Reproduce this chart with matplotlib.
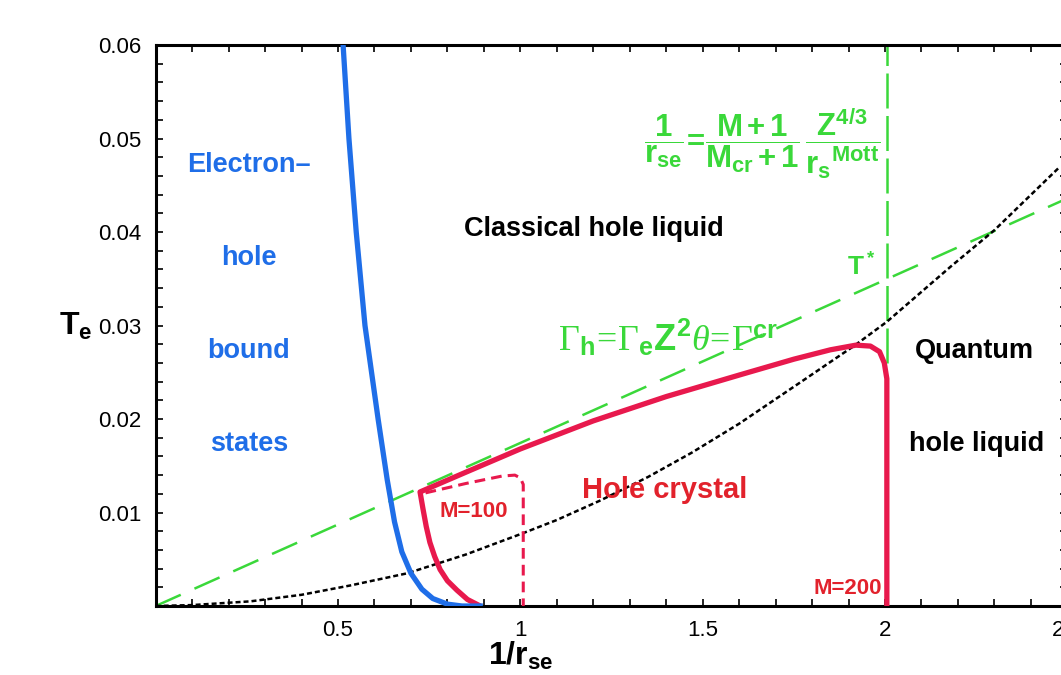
import matplotlib
matplotlib.use('Agg')
import matplotlib.pyplot as plt
from matplotlib.ticker import FixedLocator, MultipleLocator

plt.rcParams['font.family'] = ['Liberation Sans', 'DejaVu Sans']
plt.rcParams['mathtext.fontset'] = 'custom'
plt.rcParams['mathtext.rm'] = 'Liberation Serif'
plt.rcParams['mathtext.it'] = 'Liberation Serif:italic'
plt.rcParams['mathtext.bf'] = 'Liberation Sans:bold'
plt.rcParams['mathtext.sf'] = 'Liberation Sans'

# electron-hole bound states boundary
blue_x = [0.514, 0.53, 0.55, 0.574, 0.61, 0.635, 0.655, 0.675, 0.70, 0.73, 0.76, 0.80, 0.84, 0.89]
blue_t = [0.06, 0.05, 0.04, 0.03, 0.02, 0.0135, 0.009, 0.0058, 0.0035, 0.0018, 0.0008, 0.0002, 0.0, 0.0]

# hole crystal melting line, M=200
m200_x = [0.89, 0.855, 0.826, 0.80, 0.78, 0.765, 0.752, 0.742, 0.733, 0.725, 0.85, 1.0,
          1.2, 1.4, 1.6, 1.75, 1.85, 1.92, 1.96, 1.985, 1.998, 2.005, 2.005]
m200_t = [0.0, 0.0007, 0.0017, 0.0027, 0.0039, 0.0053, 0.0068, 0.0085, 0.0104, 0.0122,
          0.0143, 0.0168, 0.0198, 0.0224, 0.0247, 0.0264, 0.0274, 0.0279, 0.0278, 0.0272,
          0.0260, 0.0243, 0.0]

# hole crystal, M=100
m100_x = [0.74, 0.85, 0.95, 0.985, 1.0, 1.008, 1.008]
m100_t = [0.0121, 0.0131, 0.0139, 0.0140, 0.0137, 0.0130, 0.0]

# quantum / classical crossover T*
tstar_x = [0.0, 0.1, 0.26, 0.4, 0.534, 0.69, 0.85, 1.008, 1.1, 1.22, 1.35, 1.47,
           1.6, 1.767, 1.918, 2.005, 2.18, 2.3, 2.48]
tstar_t = [0.0, 0.0001, 0.0005, 0.0012, 0.0022, 0.0035, 0.0055, 0.0078, 0.0092, 0.0113,
           0.0138, 0.0164, 0.0195, 0.0239, 0.0279, 0.0304, 0.0363, 0.0402, 0.047]

# Gamma_h = Gamma_cr line
gam_x = [0.0, 2.5]
gam_t = [0.0, 0.0436]

# 1/r_se for M=200
rse_x = 2.005
rse_t = [0.026, 0.06]

xticks = [0.5, 1, 1.5, 2, 2.5]
xticklabels = ['0.5', '1', '1.5', '2', '2.5']
yticks = [0.01, 0.02, 0.03, 0.04, 0.05, 0.06]
yticklabels = ['0.01', '0.02', '0.03', '0.04', '0.05', '0.06']

blue = '#1f6ee8'
red = '#e8194d'
txtred = '#e2222c'
green = '#3ad83a'

fig = plt.figure(figsize=(10.61, 6.75), dpi=100)
ax = fig.add_axes([0.1467, 0.1022, 0.8593, 0.8311])

ax.plot(gam_x, gam_t, color=green, lw=1.8, dashes=(11, 6), zorder=2)
ax.plot([rse_x, rse_x], rse_t, color=green, lw=1.8, dashes=(14, 3), zorder=2)
ax.plot(tstar_x, tstar_t, color='black', lw=1.8, dashes=(2.0, 1.2), zorder=3)
ax.plot(m100_x, m100_t, color=red, lw=2.2, dashes=(3.5, 2), zorder=4)
ax.plot(m200_x, m200_t, color=red, lw=3.8, solid_capstyle='butt',
        solid_joinstyle='round', zorder=5)
ax.plot(blue_x, blue_t, color=blue, lw=3.8, solid_joinstyle='round', zorder=6)

ax.set_xlim(0, 2.5)
ax.set_ylim(0, 0.06)
ax.xaxis.set_major_locator(FixedLocator(xticks))
ax.set_xticklabels(xticklabels)
ax.yaxis.set_major_locator(FixedLocator(yticks))
ax.set_yticklabels(yticklabels)
ax.xaxis.set_minor_locator(MultipleLocator(0.1))
ax.yaxis.set_minor_locator(MultipleLocator(0.002))
ax.tick_params(which='both', direction='in', top=True, right=True, width=1.2,
               length=5, labelsize=16, pad=10)
for s in ax.spines.values():
    s.set_linewidth(2.2)

ax.set_xlabel(r'$\mathbf{1/r_{se}}$', fontsize=23, labelpad=6)
ax.xaxis.set_label_coords(0.4, -0.06)
ax.set_ylabel(r'$\mathbf{T_e}$', fontsize=23, rotation=0)
ax.yaxis.set_label_coords(-0.088, 0.47)

kw = dict(ha='center', va='center', fontweight='bold', fontsize=19.5)
for label, y in zip(['Electron\u2013', 'hole', 'bound', 'states'],
                    [0.0472, 0.0372, 0.0273, 0.0173]):
    ax.text(0.256, y, label, color=blue, **kw)
ax.text(1.203, 0.0403, 'Classical hole liquid', color='black', **kw)
ax.text(2.244, 0.0273, 'Quantum', color='black', **kw)
ax.text(2.25, 0.0173, 'hole liquid', color='black', **kw)
ax.text(1.397, 0.0124, 'Hole crystal', color=txtred, ha='center', va='center',
        fontweight='bold', fontsize=21)
ax.text(0.873, 0.0101, 'M=100', color=txtred, ha='center', va='center',
        fontweight='bold', fontsize=16)
ax.text(1.898, 0.0019, 'M=200', color=txtred, ha='center', va='center',
        fontweight='bold', fontsize=16)
ax.text(1.935, 0.0363, r'$\mathbf{T^*}$', color=green, ha='center', va='center',
        fontsize=19)
ax.text(1.405, 0.0286,
        r'$\Gamma_\mathbf{h}\!=\!\Gamma_\mathbf{e}\mathbf{Z^2}\theta\!=\!\Gamma^\mathbf{cr}$',
        color=green, ha='center', va='center', fontsize=26)
ax.text(1.663, 0.0494,
        r'$\dfrac{\mathbf{1}}{\mathbf{r_{se}}}\!\mathbf{=}\!\dfrac{\mathbf{M+1}}{\mathbf{M_{cr}+1}}\,'
        r'\dfrac{\mathbf{Z^{4/3}}}{\mathbf{r_s{}^{Mott}}}$',
        color=green, ha='center', va='center', fontsize=22.5)

plt.savefig('out.png', dpi=100)
